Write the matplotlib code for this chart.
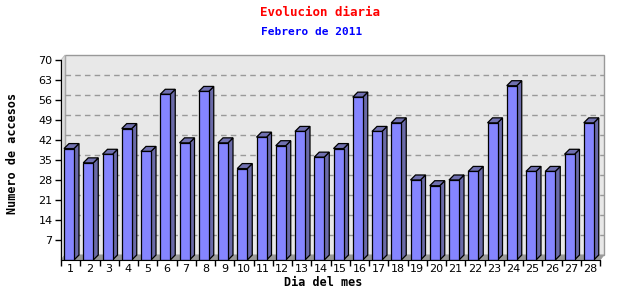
import matplotlib
matplotlib.use('Agg')
import matplotlib.pyplot as plt
from matplotlib.patches import Polygon, Rectangle

# datos
dias = list(range(1, 29))
accesos = [39, 34, 37, 46, 38, 58, 41, 59, 41, 32, 43, 40, 45, 36, 39, 57,
           45, 48, 28, 26, 28, 31, 48, 61, 31, 31, 37, 48]
y_ticks = [7, 14, 21, 28, 35, 42, 49, 56, 63, 70]

W, H = 640, 300
fig = plt.figure(figsize=(W / 100, H / 100), dpi=100)
fig.patch.set_facecolor('white')

# eje frontal: x 61..600 px, y 260..60 px
ax = fig.add_axes([61 / W, 40 / H, 539 / W, 200 / H])
n = len(dias)
ax.set_xlim(0, n)
ax.set_ylim(0, 70)
ax.set_facecolor('none')

px_x = n / 539.0          # unidades de categoria por pixel
px_y = 70 / 200.0         # unidades de valor por pixel
dx, dy = 4 * px_x, 5 * px_y   # profundidad del fondo
bdx, bdy = 5 * px_x, 5 * px_y  # profundidad de las barras

# pared del fondo, lateral y suelo
ax.add_patch(Rectangle((dx, dy), n, 70, facecolor='#e8e8e8', edgecolor='#999999',
                       lw=1, clip_on=False, zorder=0))
ax.add_patch(Polygon([(0, 0), (dx, dy), (dx, 70 + dy), (0, 70)], closed=True,
                     facecolor='#dcdcdc', edgecolor='#bbbbbb', lw=0.6, clip_on=False, zorder=0.5))
ax.add_patch(Polygon([(0, 0), (n, 0), (n + dx, dy), (dx, dy)], closed=True,
                     facecolor='#999999', edgecolor='#999999', lw=0.6, clip_on=False, zorder=0.5))
for v in y_ticks[:-1]:
    ax.plot([dx, n + dx], [v + dy, v + dy], color='#999999', lw=1,
            dashes=(4, 3), clip_on=False, zorder=0.6)

# barras 3D
x0 = 3 * px_x
bw = 10 * px_x
frente, lado = '#8585ff', '#6a6aa8'
for i, v in enumerate(accesos):
    xl = i + x0
    xr = xl + bw
    ax.add_patch(Polygon([(xr, 0), (xr + bdx, bdy), (xr + bdx, v + bdy), (xr, v)], closed=True,
                         facecolor=lado, edgecolor='black', lw=0.9, zorder=2))
    ax.add_patch(Polygon([(xl, v), (xr, v), (xr + bdx, v + bdy), (xl + bdx, v + bdy)], closed=True,
                         facecolor='#7070b0', edgecolor='black', lw=0.9, zorder=2))
    ax.bar(xl, v, width=bw, align='edge', color=frente, edgecolor='black', lw=0.9, zorder=3)

# ejes
for s in ['top', 'right']:
    ax.spines[s].set_visible(False)
ax.spines['left'].set_color('black')
ax.spines['bottom'].set_color('black')
ax.spines['left'].set_zorder(4)
ax.spines['bottom'].set_zorder(4)

ax.set_yticks(y_ticks)
ax.set_yticklabels([str(t) for t in y_ticks], fontsize=8)
ax.set_xticks(range(n + 1))
ax.set_xticklabels([''] * (n + 1))
ax.set_xticks([i + 0.5 for i in range(n)], minor=True)
ax.set_xticklabels([str(d) for d in dias], minor=True, fontsize=8)
ax.tick_params(axis='x', which='major', length=4, width=1, direction='out')
ax.tick_params(axis='x', which='minor', length=0, pad=3)
ax.tick_params(axis='y', length=4, width=1, pad=2)

mono = 'DejaVu Sans Mono'
fig.text(320 / W, 1 - 13 / H, 'Evolucion diaria', color='red', fontsize=9,
         family=mono, weight='bold', ha='center', va='center')
fig.text(312 / W, 1 - 32 / H, 'Febrero de 2011', color='blue', fontsize=8,
         family=mono, weight='bold', ha='center', va='center')
fig.text(323 / W, 1 - 282 / H, 'Dia del mes', color='black', fontsize=8.5,
         family=mono, weight='bold', ha='center', va='center')
fig.text(13 / W, 1 - 153 / H, 'Numero de accesos', color='black', fontsize=8.5,
         family=mono, weight='bold', ha='center', va='center', rotation=90)

fig.savefig('out.png', dpi=100, facecolor='white')
